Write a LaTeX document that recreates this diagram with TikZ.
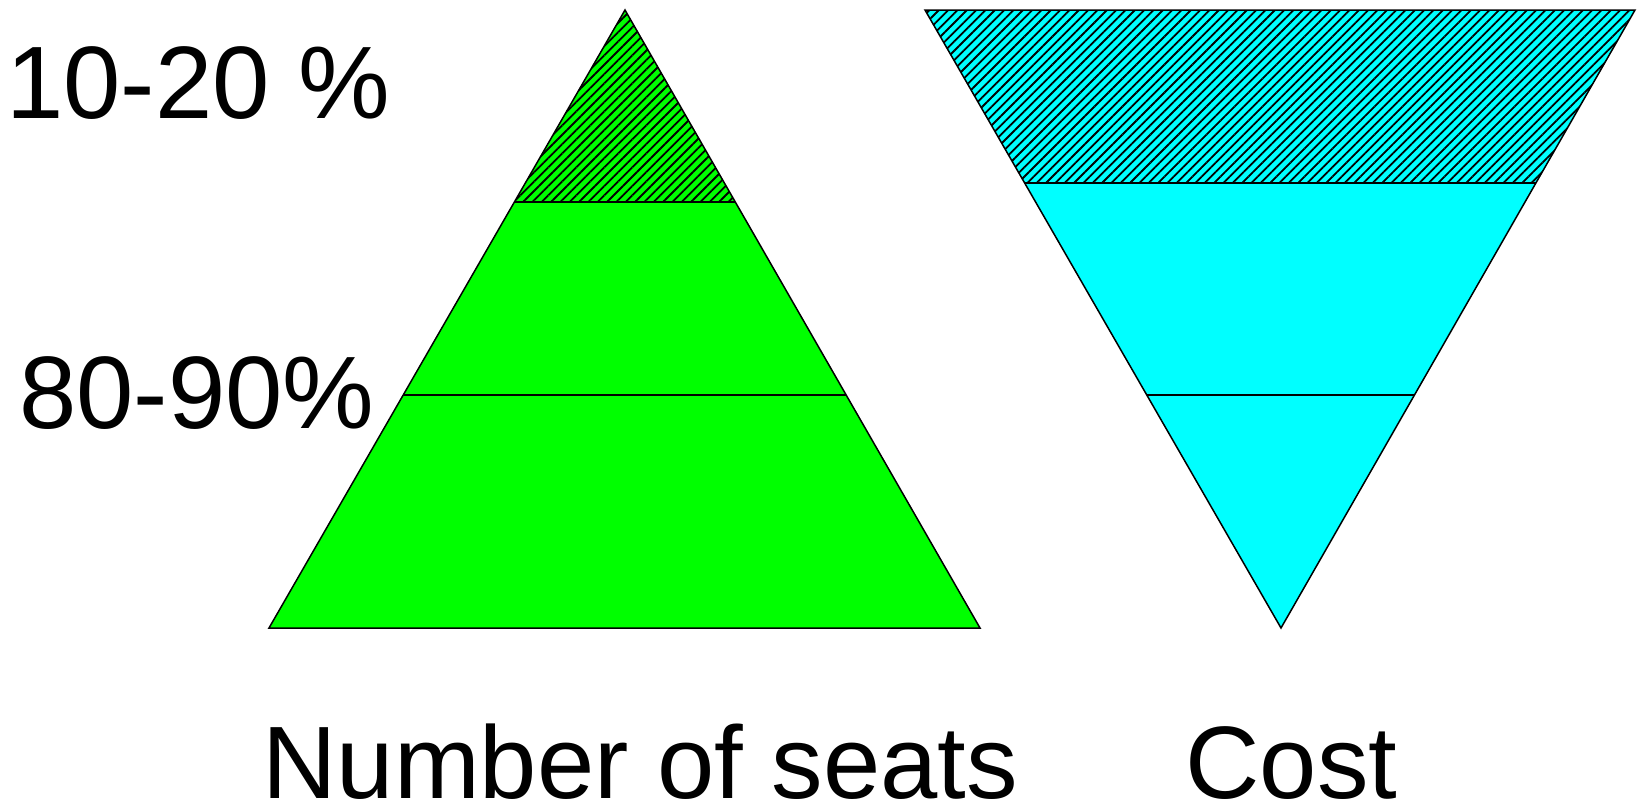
\documentclass[tikz,border=0pt]{standalone}
\usepackage{fontspec}
\setmainfont{Liberation Sans}
\usetikzlibrary{patterns.meta}
\definecolor{pgreen}{RGB}{0,255,0}
\definecolor{pcyan}{RGB}{0,255,255}
\tikzset{
  band/.style={draw=black, line width=0.75pt, line join=miter},
  hatch/.style={pattern={Lines[angle=45, distance=3.3pt, line width=0.9pt]}, pattern color=black},
  lbl/.style={anchor=base west, inner sep=0pt, text depth=0pt, font=\fontsize{51.5}{60}\selectfont}
}
\begin{document}
\begin{tikzpicture}[x=0.5pt, y=-0.5pt]
\useasboundingbox (0,0) rectangle (1640,809);
% green pyramid
\coordinate (gA) at (625,10);
\coordinate (gL) at (269,628);
\coordinate (gR) at (980,628);
\path (gA) -- (gL) coordinate[pos=0.31068] (g1L);
\path (gA) -- (gR) coordinate[pos=0.31068] (g1R);
\path (gA) -- (gL) coordinate[pos=0.62298] (g2L);
\path (gA) -- (gR) coordinate[pos=0.62298] (g2R);
\fill[pgreen] (gA) -- (gL) -- (gR) -- cycle;
\fill[hatch] (gA) -- (g1L) -- (g1R) -- cycle;
\draw[band] (gA) -- (gL) -- (gR) -- cycle;
\draw[band] (g1L) -- (g1R);
\draw[band] (g2L) -- (g2R);
% cyan inverted pyramid
\coordinate (cL) at (925,10);
\coordinate (cR) at (1635,10);
\coordinate (cA) at (1281,628);
\path (cL) -- (cA) coordinate[pos=0.27994] (c1L);
\path (cR) -- (cA) coordinate[pos=0.27994] (c1R);
\path (cL) -- (cA) coordinate[pos=0.62298] (c2L);
\path (cR) -- (cA) coordinate[pos=0.62298] (c2R);
\fill[pcyan] (cL) -- (cR) -- (cA) -- cycle;
\fill[hatch] (cL) -- (cR) -- (c1R) -- (c1L) -- cycle;
\draw[band] (cL) -- (cR) -- (cA) -- cycle;
\draw[band] (c1L) -- (c1R);
\draw[band] (c2L) -- (c2R);
% labels
\node[lbl] (t1) at (6,118) {10-20 \%};
\node[lbl] (t2) at (19,428) {80-90\%};
\node[lbl] (t3) at (262,798) {Number of seats};
\node[lbl] (t4) at (1185,798) {Cost};
\end{tikzpicture}
\end{document}
